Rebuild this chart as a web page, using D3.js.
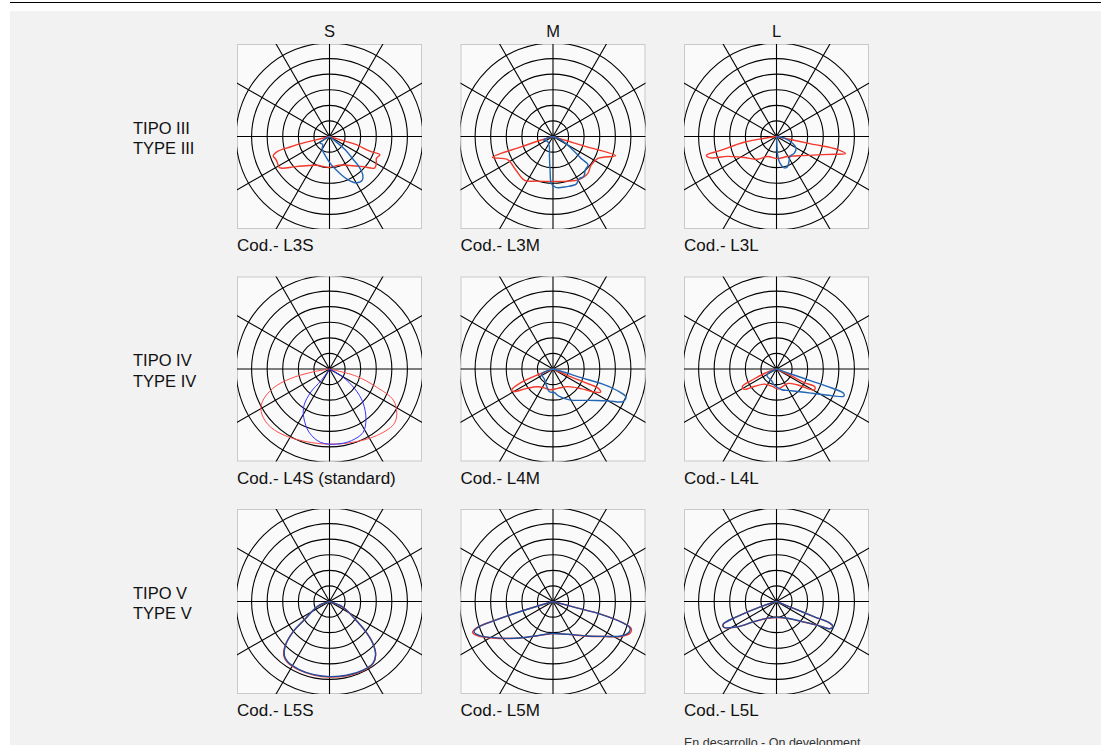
<!DOCTYPE html>
<html><head><meta charset="utf-8">
<script src="https://cdn.jsdelivr.net/npm/d3@7"></script>
<style>
html,body{margin:0;padding:0;background:#fff;}
svg{display:block;font-family:"Liberation Sans",Arial,Helvetica,sans-serif;}
</style></head><body>
<svg id="chart" width="1101" height="745"></svg>
<script>
// Photometric polar diagrams for the luminaire optics (types III, IV, V; sizes S, M, L)
const columns = ["S", "M", "L"];
const rowLabels = [["TIPO III", "TYPE III"], ["TIPO IV", "TYPE IV"], ["TIPO V", "TYPE V"]];
const codes = [
  ["Cod.- L3S", "Cod.- L3M", "Cod.- L3L"],
  ["Cod.- L4S (standard)", "Cod.- L4M", "Cod.- L4L"],
  ["Cod.- L5S", "Cod.- L5M", "Cod.- L5L"]
];
const ringValues = [100, 200, 300, 400, 500, 600];
const spokeAngles = d3.range(0, 360, 30);
const note = "En desarrollo - On development";

// Curves: [angle from nadir in degrees (positive = right), intensity]
const l3sRed = [[0,0],[-76,89],[-76,177],[-75,267],[-74,347],[-71,382],[-67,374],[-63,375],[-58,378],[-48,289],[-25,204],[0,198],[19,194],[35,227],[48,289],[55,353],[60,347],[65,332],[70,344],[70,276],[73,180],[73,90],[0,0]];
const l3sBlue = [[0,0],[-62,37],[-55,74],[-41,66],[-30,94],[-12,127],[3,179],[15,241],[23,300],[30,343],[37,350],[41,325],[44,278],[46,210],[50,127],[51,55],[0,0]];
const l3mRed = [[0,0],[-73,110],[-72,216],[-71,411],[-63,327],[-48,321],[-33,335],[-19,303],[2,288],[18,301],[30,322],[43,326],[53,306],[64,320],[73,420],[73,211],[73,105],[0,0]];
const l3mBlue = [[0,0],[-70,64],[-47,47],[-20,69],[-10,131],[-5,216],[-2,301],[3,327],[15,333],[26,340],[31,320],[38,322],[44,298],[51,289],[52,228],[57,138],[67,56],[0,0]];
const l3lRed = [[0,0],[-80,212],[-76,370],[-75,465],[-72,444],[-68,341],[-57,248],[-40,191],[-24,141],[3,142],[29,147],[52,199],[66,290],[73,389],[76,456],[78,403],[78,226],[0,0]];
const l3lBlue = [[0,0],[3,43],[3,108],[7,169],[13,205],[19,209],[25,186],[35,153],[47,157],[59,146],[67,112],[78,51],[0,0]];
const l4sRed = [[0,0],[-80,109],[-76,266],[-71,387],[-64,480],[-58,517],[-48,532],[-36,518],[-18,490],[0,482],[18,494],[35,523],[49,544],[56,521],[64,456],[69,323],[75,178],[0,0]];
const l4sBlue = [[0,0],[-36,91],[-39,190],[-35,285],[-28,352],[-18,426],[-7,474],[5,484],[17,481],[28,460],[36,398],[45,303],[52,205],[59,100],[0,0]];
const l4mRed = [[0,0],[-69,106],[-67,224],[-63,298],[-60,289],[-54,214],[-41,151],[-20,133],[-6,134],[14,128],[40,148],[55,219],[61,304],[64,339],[67,314],[67,220],[66,104],[0,0]];
const l4mBlue = [[0,0],[-66,80],[-41,85],[-18,124],[-9,148],[3,151],[13,181],[28,224],[48,301],[60,409],[65,495],[69,501],[71,452],[73,347],[73,188],[74,76],[0,0]];
const l4lRed = [[0,0],[-70,80],[-66,158],[-63,246],[-58,245],[-52,182],[-39,125],[-13,115],[3,129],[23,117],[39,119],[53,170],[61,277],[65,272],[64,198],[65,102],[0,0]];
const l4lBlue = [[0,0],[-58,73],[-23,82],[-6,108],[8,126],[14,137],[34,168],[55,270],[64,390],[68,466],[70,459],[71,370],[71,234],[71,98],[0,0]];
const l5sRed = [[0,0],[-68,81],[-54,199],[-50,311],[-45,404],[-40,456],[-35,474],[-24,481],[-12,483],[0,485],[13,489],[26,493],[35,487],[41,452],[46,386],[50,307],[55,204],[67,93],[0,0]];
const l5sBlue = [[0,0],[-68,80],[-54,197],[-50,308],[-45,400],[-40,451],[-35,470],[-24,478],[-12,480],[0,482],[13,486],[26,490],[35,485],[41,451],[46,386],[50,308],[55,205],[67,94],[0,0]];
const l5mRed = [[0,0],[-73,216],[-72,399],[-71,516],[-69,553],[-65,527],[-60,465],[-51,378],[-39,298],[-24,241],[-4,207],[24,231],[45,315],[56,402],[63,494],[68,536],[71,530],[73,470],[75,321],[75,165],[0,0]];
const l5mBlue = [[0,0],[-73,214],[-72,396],[-71,510],[-69,543],[-65,518],[-60,460],[-51,376],[-39,297],[-24,240],[-4,206],[24,230],[45,313],[56,400],[63,488],[68,526],[71,522],[73,466],[75,319],[75,164],[0,0]];
const l5lRed = [[0,0],[-72,106],[-69,270],[-67,372],[-64,377],[-57,299],[-48,193],[-28,122],[4,103],[33,129],[51,203],[60,306],[63,383],[66,394],[68,365],[68,262],[68,123],[0,0]];
const l5lBlue = [[0,0],[-72,105],[-69,268],[-67,370],[-64,376],[-57,298],[-48,192],[-28,121],[4,102],[33,128],[51,202],[60,306],[63,385],[66,397],[68,367],[68,263],[68,123],[0,0]];

// Curve sets per grid cell (row-major)
const redCurves = [l3sRed, l3mRed, l3lRed, l4sRed, l4mRed, l4lRed, l5sRed, l5mRed, l5lRed];
const blueCurves = [l3sBlue, l3mBlue, l3lBlue, l4sBlue, l4mBlue, l4lBlue, l5sBlue, l5mBlue, l5lBlue];

const svg = d3.select("#chart");
const W = 1101, H = 745;

// page background
svg.append("rect").attr("width", W).attr("height", H).attr("fill", "#ffffff");
svg.append("line").attr("x1", 10).attr("x2", W).attr("y1", 2.5).attr("y2", 2.5)
  .attr("stroke", "#000").attr("stroke-width", 1);
svg.append("rect").attr("x", 10).attr("y", 11).attr("width", W - 10).attr("height", H - 11)
  .attr("fill", "#f2f2f2");

const box = 185;
const xCol = d3.scalePoint().domain(columns).range([237, 684]);
const yRow = d3.scalePoint().domain([0, 1, 2]).range([44, 509]);
const r = d3.scaleLinear().domain([0, 600]).range([0, 93.5]);

const line = d3.lineRadial()
  .angle(d => (180 - d[0]) * Math.PI / 180)
  .radius(d => r(d[1]))
  .curve(d3.curveCatmullRom.alpha(0.5));

const defs = svg.append("defs");

// column headers
svg.selectAll("text.col").data(columns).join("text")
  .attr("class", "col")
  .attr("x", d => xCol(d) + box / 2).attr("y", 37)
  .attr("text-anchor", "middle").attr("font-size", 16.5).attr("fill", "#111")
  .text(d => d);

// row headers
rowLabels.forEach((lab, ri) => {
  const cy = yRow(ri) + box / 2;
  svg.append("text").attr("x", 133).attr("y", cy - 3)
    .attr("font-size", 16.5).attr("fill", "#111").text(lab[0]);
  svg.append("text").attr("x", 133).attr("y", cy + 17.5)
    .attr("font-size", 16.5).attr("fill", "#111").text(lab[1]);
});

rowLabels.forEach((_, ri) => {
  columns.forEach((col, ci) => {
    const idx = ri * 3 + ci;
    const x0 = xCol(col), y0 = yRow(ri);
    const cx = x0 + box / 2, cy = y0 + box / 2;
    const clipId = "clip" + idx;
    defs.append("clipPath").attr("id", clipId)
      .append("rect").attr("x", x0).attr("y", y0).attr("width", box).attr("height", box);

    const g = svg.append("g");
    g.append("rect").attr("x", x0 + 0.5).attr("y", y0 + 0.5)
      .attr("width", box - 1).attr("height", box - 1)
      .attr("fill", "#fafafa").attr("stroke", "#c9c9c9").attr("stroke-width", 1);

    // grid: rings and 30° spokes, clipped to the frame
    const grid = g.append("g").attr("clip-path", `url(#${clipId})`)
      .append("g").attr("transform", `translate(${cx},${cy})`);
    grid.selectAll("circle").data(ringValues).join("circle")
      .attr("r", d => r(d)).attr("fill", "none")
      .attr("stroke", "#000").attr("stroke-width", 1.1);
    grid.selectAll("line").data(spokeAngles).join("line")
      .attr("x1", 0).attr("y1", 0)
      .attr("x2", d => 140 * Math.sin(d * Math.PI / 180))
      .attr("y2", d => -140 * Math.cos(d * Math.PI / 180))
      .attr("stroke", "#000").attr("stroke-width", 1.1);

    const standard = idx === 3;
    const curves = g.append("g").attr("transform", `translate(${cx},${cy})`);
    curves.append("path").attr("d", line(redCurves[idx]))
      .attr("fill", "none")
      .attr("stroke", standard ? "#ff4d4d" : "#f4382c")
      .attr("stroke-width", standard ? 1 : 1.4);
    curves.append("path").attr("d", line(blueCurves[idx]))
      .attr("fill", "none")
      .attr("stroke", standard ? "#3535ff" : (ri === 2 ? "#1f4f9e" : "#2366b3"))
      .attr("stroke-width", standard ? 1 : 1.4);

    svg.append("text").attr("x", x0).attr("y", y0 + box + 22)
      .attr("font-size", 17).attr("fill", "#111").text(codes[ri][ci]);
  });
});

svg.append("text").attr("x", 684).attr("y", 747)
  .attr("font-size", 12.5).attr("fill", "#333").text(note);
</script>
</body></html>
